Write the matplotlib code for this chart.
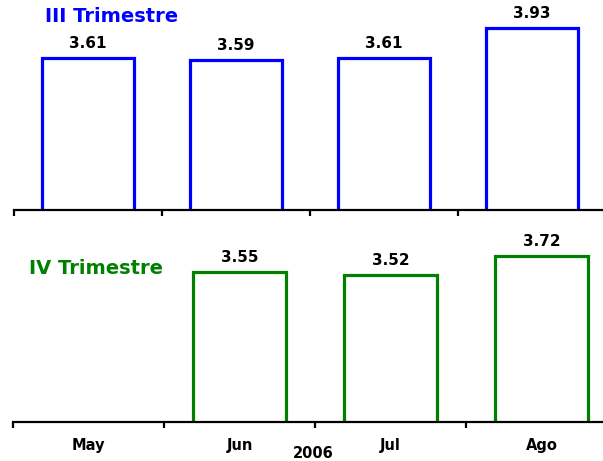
import numpy as np
import matplotlib.pyplot as plt
from matplotlib.ticker import FixedLocator, NullFormatter

# data
months = ["May", "Jun", "Jul", "Ago"]
q3_values = [3.61, 3.59, 3.61, 3.93]
q4_months = ["Jun", "Jul", "Ago"]
q4_values = [3.55, 3.52, 3.72]
year_label = "2006"

W, H = 603, 461
fig = plt.figure(figsize=(W / 100, H / 100), dpi=100)
plt.rcParams['font.family'] = ['DejaVu Sans']

blue = "#0000ff"
green = "#008000"


def px_axes(left, right, top, bottom):
    # axes rectangle from pixel coordinates
    return fig.add_axes([left / W, 1 - bottom / H, (right - left) / W, (bottom - top) / H])


def style(ax, ymax):
    ax.set_xlim(-0.5, 3.5)
    ax.set_ylim(2, ymax)
    for s in ["top", "right", "left"]:
        ax.spines[s].set_visible(False)
    ax.spines["bottom"].set_linewidth(1.6)
    ax.spines["bottom"].set_zorder(5)
    ax.set_yticks([])
    ax.xaxis.set_major_locator(FixedLocator([-0.5, 0.5, 1.5, 2.5, 3.5]))
    ax.xaxis.set_major_formatter(NullFormatter())
    ax.tick_params(axis="x", which="major", length=4, width=1.6, direction="out")
    ax.patch.set_alpha(0)


def draw_bars(ax, pos, vals, color):
    bars = ax.bar(pos, vals, width=0.615, fill=False, edgecolor=color, linewidth=2.3)
    for b, v in zip(bars, vals):
        ax.annotate(f"{v:.2f}", (b.get_x() + b.get_width() / 2, v),
                    xytext=(0, 5), textcoords="offset points",
                    ha="center", va="bottom", fontsize=11, fontweight="bold")


# top panel: III Trimestre
ax1 = px_axes(14, 606, 10, 210)
style(ax1, 2 + 200 / 94.5)
draw_bars(ax1, np.arange(len(months)), q3_values, blue)

# bottom panel: IV Trimestre
ax2 = px_axes(13, 617, 235, 421.7)
style(ax2, 2 + 186.7 / 96.5)
draw_bars(ax2, [months.index(m) for m in q4_months], q4_values, green)
ax2.set_xticks(np.arange(len(months)), minor=True)
ax2.set_xticklabels(months, minor=True, fontsize=10.5, fontweight="bold")
ax2.tick_params(axis="x", which="minor", length=0, pad=12)

fig.text(45 / W, 1 - 17 / H, "III Trimestre", color=blue, fontsize=14,
         fontweight="bold", ha="left", va="center")
fig.text(29 / W, 1 - 268 / H, "IV Trimestre", color=green, fontsize=14,
         fontweight="bold", ha="left", va="center")
fig.text(313 / W, 1 - 453 / H, year_label, fontsize=10.5, fontweight="bold",
         ha="center", va="center")

fig.savefig("out.png", dpi=100, facecolor="white")
